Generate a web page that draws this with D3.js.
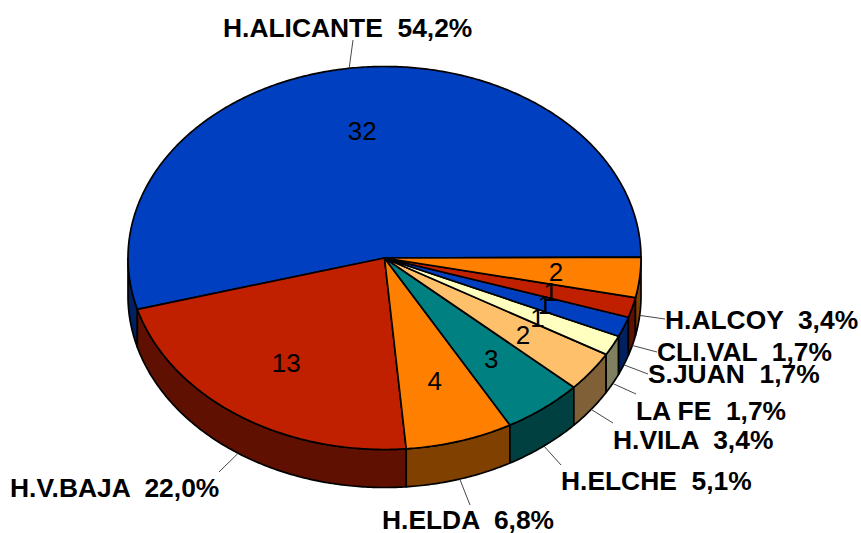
<!DOCTYPE html>
<html><head><meta charset="utf-8">
<script src="https://cdn.jsdelivr.net/npm/d3@7"></script>
<style>html,body{margin:0;background:#fff}svg{display:block}
text{font-family:"Liberation Sans",Arial,sans-serif;fill:#000;white-space:pre}</style>
</head><body><svg id="c" width="861" height="533"></svg>
<script>
const names = ["H.ALICANTE","H.V.BAJA","H.ELDA","H.ELCHE","H.VILA","LA FE","S.JUAN","CLI.VAL","H.ALCOY"];
const values = [32,13,4,3,2,1,1,1,2];
const percents = ["54,2%","22,0%","6,8%","5,1%","3,4%","1,7%","1,7%","1,7%","3,4%"];
const colors = ["#0040C0","#C02000","#FF8000","#008080","#FFC06C","#FFFFC0","#0040C0","#C02000","#FF8000"];
// label layout: left x, baseline y, leader end
const labelPos = [[223,37],[10,497],[382,529],[561,490],[613,449],[636,420],[648,383],[657,361],[665,329]];
const leaderEnd = [[353,40],[219,472],[470,505],[561,465],[613,423],[636,394],[648,374],[657,352],[665,319]];

const cx=384.5, cy=258, rx=256.5, ry=191.5, depth=38, tilt=-0.005;
const X=d3.scaleLinear().domain([-1,1]).range([cx-rx,cx+rx]);
const Y=d3.scaleLinear().domain([-1,1]).range([cy-ry,cy+ry]);
const svg=d3.select("#c");
const pie=d3.pie().sort(null).startAngle(tilt).endAngle(tilt-2*Math.PI);
const arcs=pie(values);
const line=d3.line().x(p=>p[0]).y(p=>p[1]);
const pt=(a,r=1,dy=0)=>[X(r*Math.cos(a)),Y(r*Math.sin(a))+dy];
const samples=(a0,a1)=>{const n=Math.max(2,Math.ceil(Math.abs(a1-a0)/0.01));return d3.range(n+1).map(i=>a0+(a1-a0)*i/n);};
const dark=c=>{const r=d3.rgb(c);return d3.rgb(r.r/2,r.g/2,r.b/2).formatHex();};

// side walls (only where the rim faces the viewer: angles -360..-180)
const walls=svg.append("g");
arcs.forEach((d,i)=>{
  const a0=Math.min(d.startAngle,-Math.PI), a1=Math.max(d.endAngle,-2*Math.PI);
  if(a0<=a1) return;
  const s=samples(a0,a1);
  const pts=s.map(a=>pt(a)).concat(s.slice().reverse().map(a=>pt(a,1,depth)));
  walls.append("path").attr("d",line(pts)+"Z").attr("fill",dark(colors[i]))
    .attr("stroke","#000").attr("stroke-width",1.7).attr("stroke-linejoin","round");
});
// top faces
const tops=svg.append("g");
arcs.forEach((d,i)=>{
  const pts=[[cx,cy]].concat(samples(d.startAngle,d.endAngle).map(a=>pt(a)));
  tops.append("path").attr("d",line(pts)+"Z").attr("fill",colors[i])
    .attr("stroke","#000").attr("stroke-width",1.7).attr("stroke-linejoin","round");
});
// value labels
arcs.forEach((d,i)=>{
  const m=pt((d.startAngle+d.endAngle)/2-tilt,0.67);
  svg.append("text").attr("x",m[0]+0.5).attr("y",m[1]).attr("dy","0.36em").attr("text-anchor","middle")
    .attr("font-size",26).text(values[i]);
});
// leaders and names
arcs.forEach((d,i)=>{
  const a=(d.startAngle+d.endAngle)/2;
  const visible=Math.sin(a)>0;
  const s=pt(a,1,visible?depth:0);
  svg.append("line").attr("x1",s[0]).attr("y1",s[1]).attr("x2",leaderEnd[i][0]).attr("y2",leaderEnd[i][1])
    .attr("stroke","#333").attr("stroke-width",0.9);
});
arcs.forEach((d,i)=>{
  svg.append("text").attr("x",labelPos[i][0]).attr("y",labelPos[i][1])
    .attr("font-size",26.4).attr("font-weight","bold").text(names[i]+"  "+percents[i]);
});
</script></body></html>
